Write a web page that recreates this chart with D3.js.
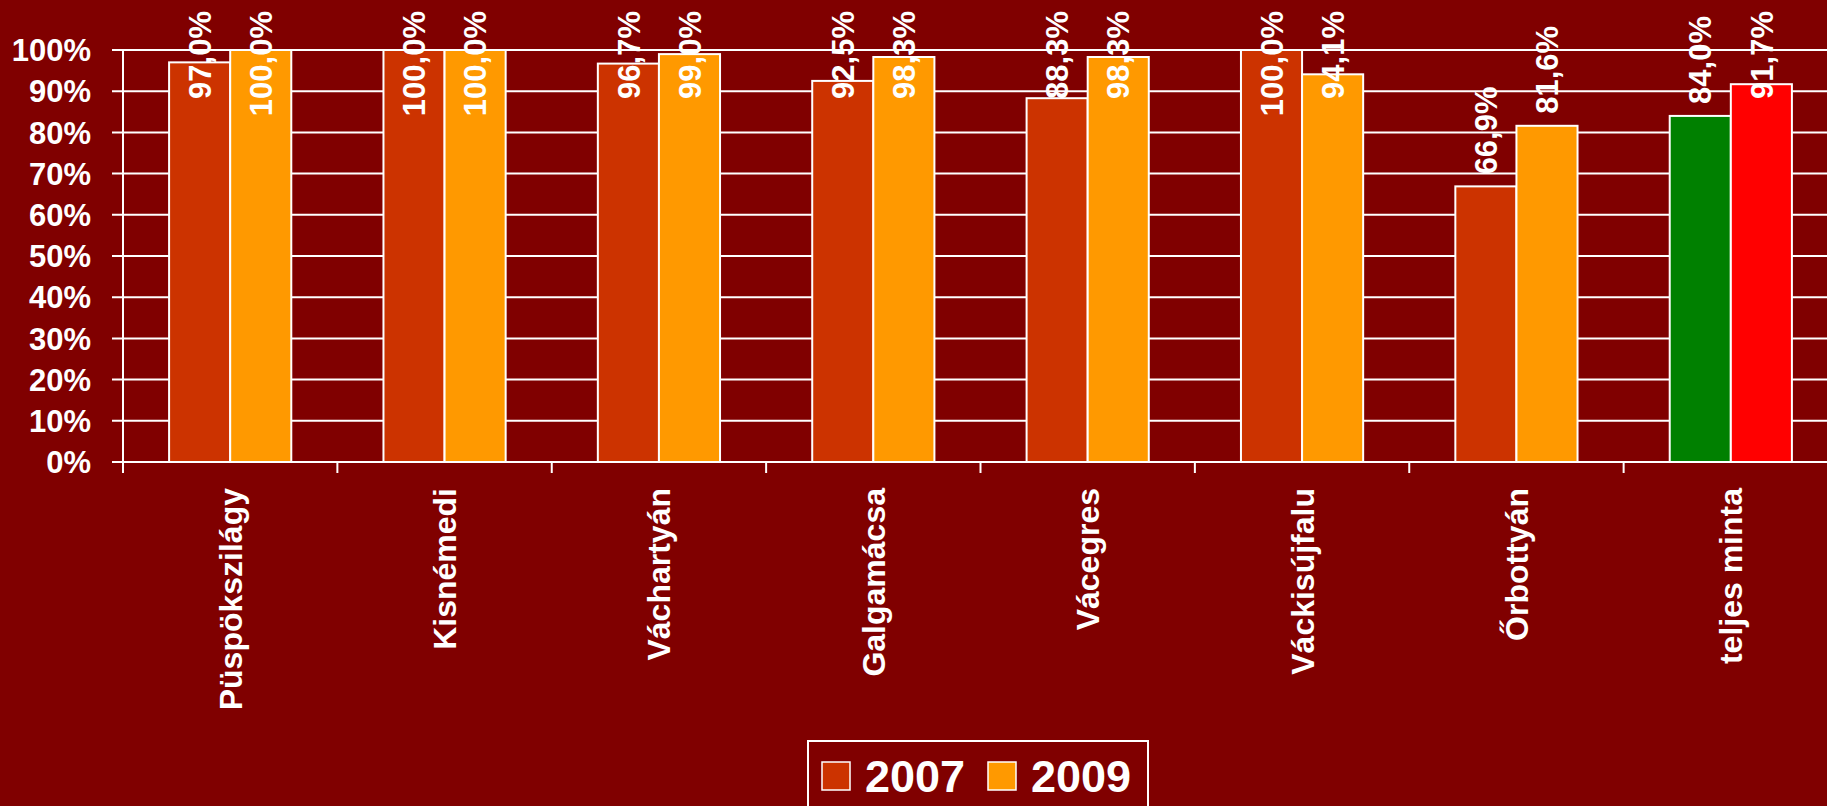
<!DOCTYPE html>
<meta charset="utf-8">
<style>
body { margin: 0; background: #800000; }
text { font-family: Arial, "Liberation Sans", sans-serif; font-weight: bold; fill: #fff; }
</style>
<script src="https://d3js.org/d3.v7.min.js"></script>
<svg id="chart" width="1827" height="806"></svg>
<script>

var categories = ["Püspökszilágy", "Kisnémedi", "Váchartyán", "Galgamácsa", "Vácegres", "Váckisújfalu", "Őrbottyán", "teljes minta"];
var series = ["2007", "2009"];
var values2007 = [97.0, 100.0, 96.7, 92.5, 88.3, 100.0, 66.9, 84.0];
var values2009 = [100.0, 100.0, 99.0, 98.3, 98.3, 94.1, 81.6, 91.7];
var yTicks = [0, 10, 20, 30, 40, 50, 60, 70, 80, 90, 100];

var seriesColor = { "2007": "#cc3300", "2009": "#ff9900" };
// the total sample is drawn in different colours
var totalColor = { "2007": "#008000", "2009": "#ff0000" };

var svg = d3.select("svg#chart");

svg.append("rect").attr("width", 1827).attr("height", 806).attr("fill", "#800000");

var x = d3.scaleBand()
    .domain(categories)
    .range([123, 1838])
    .paddingInner(0.43)
    .paddingOuter(0.215);

var y = d3.scaleLinear().domain([0, 100]).range([462, 50]);

// gridlines
svg.append("g")
  .selectAll("line")
  .data(yTicks)
  .enter().append("line")
    .attr("x1", 112)
    .attr("x2", 1838)
    .attr("y1", function(d) { return y(d); })
    .attr("y2", function(d) { return y(d); })
    .attr("stroke", "#fff")
    .attr("stroke-width", 2);

// y axis labels
svg.append("g")
  .selectAll("text")
  .data(yTicks)
  .enter().append("text")
    .attr("x", 91)
    .attr("y", function(d) { return y(d); })
    .attr("dy", "0.36em")
    .attr("text-anchor", "end")
    .style("font-size", "31px")
    .text(function(d) { return d + "%"; });

// y axis line and category ticks
svg.append("line")
    .attr("x1", 123).attr("x2", 123)
    .attr("y1", 50).attr("y2", 473)
    .attr("stroke", "#fff").attr("stroke-width", 2);

svg.append("g")
  .selectAll("line")
  .data(categories)
  .enter().append("line")
    .attr("x1", function(d) { return x(d) - x.step() * 0.215; })
    .attr("x2", function(d) { return x(d) - x.step() * 0.215; })
    .attr("y1", 462).attr("y2", 473)
    .attr("stroke", "#fff").attr("stroke-width", 2);

var rows = [];
categories.forEach(function(c, i) {
  var total = c === "teljes minta";
  rows.push({ cat: c, s: 0, v: values2007[i], color: total ? totalColor["2007"] : seriesColor["2007"] });
  rows.push({ cat: c, s: 1, v: values2009[i], color: total ? totalColor["2009"] : seriesColor["2009"] });
});

var bw = x.bandwidth() / 2;

svg.append("g")
  .selectAll("rect")
  .data(rows)
  .enter().append("rect")
    .attr("x", function(d) { return x(d.cat) + d.s * bw; })
    .attr("y", function(d) { return y(d.v); })
    .attr("width", bw)
    .attr("height", function(d) { return y(0) - y(d.v); })
    .attr("fill", function(d) { return d.color; })
    .attr("stroke", "#fff")
    .attr("stroke-width", 2);

// value labels, rotated, pushed down when they would leave the top
var fmt = function(v) { return v.toFixed(1).replace(".", ",") + "%"; };

svg.append("g")
  .selectAll("text")
  .data(rows)
  .enter().append("text")
    .style("font-size", "31px")
    .attr("text-anchor", "start")
    .text(function(d) { return fmt(d.v); })
    .each(function(d) {
      var len = this.getComputedTextLength();
      var cx = x(d.cat) + d.s * bw + bw / 2;
      var yy = Math.max(y(d.v) - 12, 11 + len);
      d3.select(this)
        .attr("dy", "0.36em")
        .attr("transform", "translate(" + cx + "," + yy + ") rotate(-90)");
    });

// category labels
svg.append("g")
  .selectAll("text")
  .data(categories)
  .enter().append("text")
    .style("font-size", "32px")
    .attr("text-anchor", "end")
    .attr("dy", "0.36em")
    .attr("transform", function(d) { return "translate(" + (x(d) + x.bandwidth() / 2) + ",488) rotate(-90)"; })
    .text(function(d) { return d; });

// legend
var legend = svg.append("g");
legend.append("rect")
    .attr("x", 808).attr("y", 741)
    .attr("width", 340).attr("height", 80)
    .attr("fill", "none")
    .attr("stroke", "#fff").attr("stroke-width", 2);

var legendX = [822, 988];
series.forEach(function(s, i) {
  legend.append("rect")
      .attr("x", legendX[i]).attr("y", 762)
      .attr("width", 28).attr("height", 28)
      .attr("fill", seriesColor[s])
      .attr("stroke", "#fff").attr("stroke-width", 1.5);
  legend.append("text")
      .attr("x", legendX[i] + 43).attr("y", 776)
      .attr("dy", "0.36em")
      .style("font-size", "45px")
      .text(s);
});
</script>
